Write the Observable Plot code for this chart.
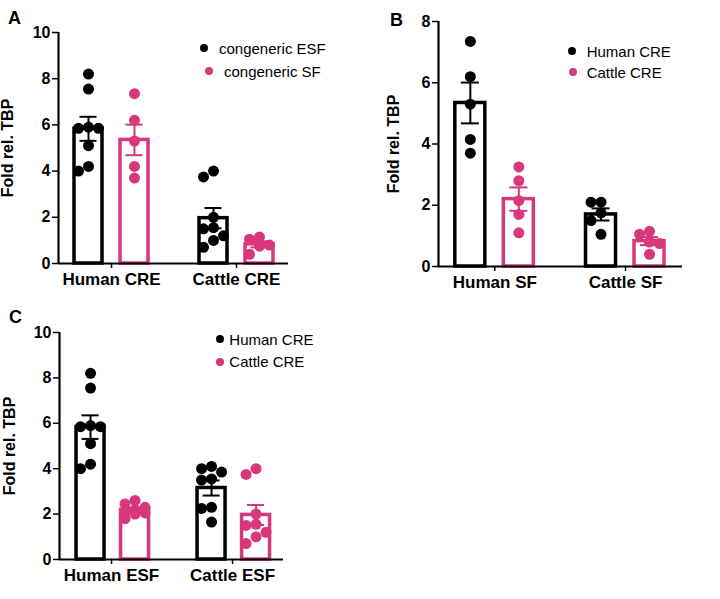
<!DOCTYPE html>
<html><head><meta charset="utf-8">
<script src="https://cdn.jsdelivr.net/npm/d3@7"></script>
<script src="https://cdn.jsdelivr.net/npm/@observablehq/plot@0.6"></script>
<style>
html,body{margin:0;padding:0;background:#fff;}
body{font-family:"Liberation Sans",Arial,Helvetica,sans-serif;color:#000;}
#root{position:relative;width:720px;height:599px;overflow:hidden;background:#fff;}
.panel{position:absolute;}
.letter{position:absolute;font-weight:bold;font-size:18px;line-height:1;}
.ldot{position:absolute;width:8px;height:8px;border-radius:50%;}
.ltext{position:absolute;font-size:15px;line-height:1;white-space:nowrap;}
</style></head><body><div id="root"></div>
<script>
// ---------- DATA ----------
const yLabel = "Fold rel. TBP";

// Panel A
const groupsA = ["Human CRE", "Cattle CRE"];
const seriesA = ["congeneric ESF", "congeneric SF"];
const a_esf_human = [8.2, 7.55, 5.9, 5.85, 5.85, 5.1, 4.2, 4.0];
const a_sf_human  = [7.35, 6.2, 5.3, 4.2, 3.7];
const a_esf_cattle = [4.0, 3.75, 2.0, 1.55, 1.5, 1.2, 1.0, 0.7];
const a_sf_cattle  = [1.15, 1.05, 0.8, 0.75, 0.4];
const yTicksA = [0, 2, 4, 6, 8, 10];

// Panel B
const groupsB = ["Human SF", "Cattle SF"];
const seriesB = ["Human CRE", "Cattle CRE"];
const b_human_humanSF  = [7.35, 6.2, 5.3, 4.15, 3.7];
const b_cattle_humanSF = [3.25, 2.8, 2.15, 1.7, 1.1];
const b_human_cattleSF  = [2.1, 2.1, 1.75, 1.5, 1.05];
const b_cattle_cattleSF = [1.15, 1.05, 0.8, 0.75, 0.4];
const yTicksB = [0, 2, 4, 6, 8];

// Panel C
const groupsC = ["Human ESF", "Cattle ESF"];
const seriesC = ["Human CRE", "Cattle CRE"];
const c_human_humanESF  = [8.2, 7.55, 5.9, 5.85, 5.85, 5.1, 4.2, 4.0];
const c_cattle_humanESF = [2.6, 2.45, 2.3, 2.2, 2.1, 2.05, 2.0, 1.8];
const c_human_cattleESF  = [4.1, 4.0, 3.85, 3.55, 3.5, 2.3, 2.25, 1.65];
const c_cattle_cattleESF = [4.0, 3.75, 2.0, 1.55, 1.5, 1.2, 1.0, 0.7];
const yTicksC = [0, 2, 4, 6, 8, 10];

// ---------- STYLE / LAYOUT ----------
const COLORS = ["#000000", "#d8377c"];
const FONT = '"Liberation Sans", Arial, Helvetica, sans-serif';

// simple deterministic beeswarm: three lanes (centre, left, right)
function swarm(values, pxPerY, step, minDist) {
  const order = d3.range(values.length).sort((i, j) => values[j] - values[i]);
  const cands = [0, -1, 1];
  const placed = [], off = new Array(values.length);
  for (const i of order) {
    const y = values[i] * pxPerY;
    let best = 0, bestD = -1;
    for (const c of cands) {
      const x = c * step;
      const d = placed.length ? d3.min(placed, p => Math.hypot(p.x - x, p.y - y)) : Infinity;
      if (d >= minDist) { best = x; bestD = Infinity; break; }
      if (d > bestD + 0.5) { best = x; bestD = d; }
    }
    placed.push({x: best, y});
    off[i] = best;
  }
  return off;
}

function makePanel(cfg) {
  const {groups, series, values, yTicks, W, H, ml, mr, mt, mb, xDomain, offsets, half, cap, labelOffset} = cfg;
  const yMax = d3.max(yTicks);
  const pxPerX = (W - ml - mr) / (xDomain[1] - xDomain[0]);
  const pxPerY = (H - mt - mb) / yMax;
  const bars = [], pts = [];
  groups.forEach((g, gi) => series.forEach((s, si) => {
    const vals = values[si][gi];
    const center = gi + offsets[si] / pxPerX;
    const mean = d3.mean(vals);
    const sem = d3.deviation(vals) / Math.sqrt(vals.length);
    bars.push({s, center, x1: center - half / pxPerX, x2: center + half / pxPerX,
      mean, lo: mean - sem, hi: mean + sem, c1: center - cap / pxPerX, c2: center + cap / pxPerX});
    const offs = swarm(vals, pxPerY, 10, 10);
    vals.forEach((v, i) => pts.push({s, x: center + offs[i] / pxPerX, y: v}));
  }));
  return Plot.plot({
    width: W, height: H,
    marginLeft: ml, marginRight: mr, marginTop: mt, marginBottom: mb,
    x: {domain: xDomain},
    y: {domain: [0, yMax]},
    color: {domain: series, range: COLORS},
    style: {fontFamily: FONT, fontWeight: "bold", fontSize: "16px", color: "#000", background: "transparent", overflow: "visible"},
    marks: [
      Plot.rect(bars, {x1: "x1", x2: "x2", y1: 0, y2: "mean", stroke: "s", fill: "white", strokeWidth: 3.5}),
      Plot.ruleX(bars, {x: "center", y1: "lo", y2: "hi", stroke: "s", strokeWidth: 2}),
      Plot.ruleY(bars, {y: "hi", x1: "c1", x2: "c2", stroke: "s", strokeWidth: 2}),
      Plot.ruleY(bars, {y: "lo", x1: "c1", x2: "c2", stroke: "s", strokeWidth: 2}),
      Plot.dot(pts, {x: "x", y: "y", r: 5.5, fill: "s", stroke: null}),
      Plot.ruleY([0], {strokeWidth: 2.2}),
      Plot.ruleX([xDomain[0]], {strokeWidth: 2.2}),
      Plot.axisY({ticks: yTicks, tickSize: 6, tickPadding: 2, strokeWidth: 1.5,
        label: yLabel, labelAnchor: "center", labelArrow: "none", labelOffset, fontSize: 16}),
      Plot.axisX({ticks: d3.range(groups.length), tickFormat: i => groups[i], tickSize: 5, tickPadding: 4,
        strokeWidth: 1.5, fontSize: 17, label: null})
    ]
  });
}

const panels = [
  {letter: "A", left: 0, top: 0, letterPos: [8, 9],
   groups: groupsA, series: seriesA, yTicks: yTicksA,
   values: [[a_esf_human, a_esf_cattle], [a_sf_human, a_sf_cattle]],
   W: 300, H: 300, ml: 58, mr: 12, mt: 32, mb: 37, xDomain: [-0.424, 1.416],
   offsets: [-23, 23], half: 14, cap: 8.5, labelOffset: 57,
   legend: [[204, 48, 219], [209, 71, 224]]},
  {letter: "B", left: 360, top: 0, letterPos: [390, 11],
   groups: groupsB, series: seriesB, yTicks: yTicksB,
   values: [[b_human_humanSF, b_human_cattleSF], [b_cattle_humanSF, b_cattle_cattleSF]],
   W: 360, H: 300, ml: 78, mr: 38, mt: 21, mb: 34, xDomain: [-0.431, 1.436],
   offsets: [-24.5, 24], half: 15, cap: 9, labelOffset: 51,
   legend: [[571.7, 51, 586.7], [573, 72, 586.7]]},
  {letter: "C", left: 0, top: 300, letterPos: [9, 308],
   groups: groupsC, series: seriesC, yTicks: yTicksC,
   values: [[c_human_humanESF, c_human_cattleESF], [c_cattle_humanESF, c_cattle_cattleESF]],
   W: 300, H: 299, ml: 59, mr: 17, mt: 32, mb: 40, xDomain: [-0.430, 1.421],
   offsets: [-21, 23.5], half: 14, cap: 8.5, labelOffset: 56,
   legend: [[220, 339.3, 229.3], [219.5, 361.7, 229.3]]}
];

const root = document.getElementById("root");
for (const p of panels) {
  const wrap = document.createElement("div");
  wrap.className = "panel";
  wrap.style.left = p.left + "px";
  wrap.style.top = p.top + "px";
  wrap.appendChild(makePanel(p));
  root.appendChild(wrap);

  const L = document.createElement("div");
  L.className = "letter";
  L.textContent = p.letter;
  L.style.left = p.letterPos[0] + "px";
  L.style.top = p.letterPos[1] + "px";
  root.appendChild(L);

  p.series.forEach((s, i) => {
    const [dx, dy, tx] = p.legend[i];
    const d = document.createElement("div");
    d.className = "ldot";
    d.style.background = COLORS[i];
    d.style.left = (dx - 4) + "px";
    d.style.top = (dy - 4) + "px";
    root.appendChild(d);
    const t = document.createElement("div");
    t.className = "ltext";
    t.textContent = s;
    t.style.left = tx + "px";
    t.style.top = (dy - 7.5) + "px";
    root.appendChild(t);
  });
}
</script></body></html>
